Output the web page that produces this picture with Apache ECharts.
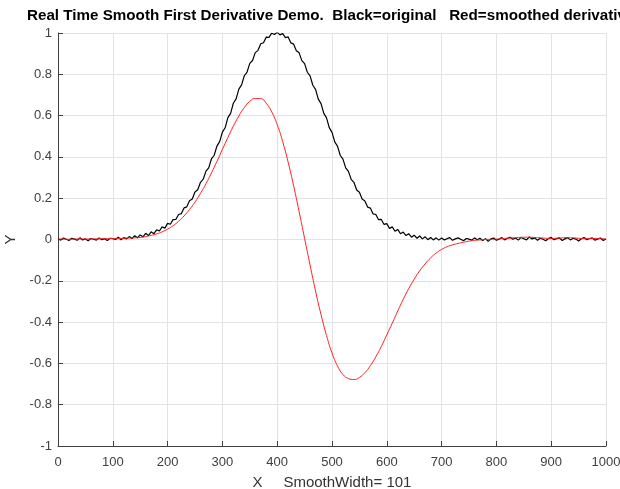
<!DOCTYPE html>
<html>
<head>
<meta charset="utf-8">
<script src="https://cdn.jsdelivr.net/npm/echarts@6/dist/echarts.min.js"></script>
<style>html,body{margin:0;padding:0;background:#fff}#c{width:620px;height:489px}</style>
</head>
<body>
<div id="c"></div>
<script>
// ---- data ----
const titleText = "Real Time Smooth First Derivative Demo.  Black=original   Red=smoothed derivative";
const xName = "X     SmoothWidth= 101";
const yName = "Y";
const xTicks = [0, 1000, 100];      // min, max, interval
const yTicks = [-1, 1, 0.2];

// black (original, noisy) sampled every 5 units of X, from 0 to 1000
const blackStep = 5;
const blackY = [
 0.004,-0.003,0.007,0.001,-0.005,0.006,0.002,-0.004,0.008,-0.002,
 0.003,-0.006,0.005,0.001,-0.003,0.007,-0.001,0.004,-0.005,0.006,
 0.004,0.000,0.011,-0.002,0.009,0.003,0.014,0.005,0.018,0.008,
 0.022,0.013,0.030,0.019,0.037,0.028,0.047,0.041,0.061,0.055,
 0.078,0.074,0.096,0.097,0.121,0.125,0.153,0.158,0.188,0.196,
 0.230,0.241,0.277,0.292,0.331,0.347,0.390,0.408,0.452,0.474,
 0.520,0.541,0.590,0.611,0.660,0.681,0.728,0.749,0.793,0.811,
 0.853,0.867,0.905,0.916,0.948,0.953,0.980,0.979,0.999,0.993,
 1.004,0.991,0.997,0.978,0.981,0.952,0.946,0.914,0.904,0.866,
 0.852,0.810,0.792,0.747,0.727,0.680,0.658,0.611,0.589,0.542,
 0.519,0.473,0.452,0.408,0.389,0.347,0.330,0.291,0.277,0.240,
 0.229,0.196,0.187,0.157,0.152,0.124,0.121,0.096,0.097,0.073,
 0.077,0.054,0.061,0.040,0.049,0.028,0.036,0.019,0.028,0.011,
 0.021,0.006,0.017,0.003,0.013,-0.001,0.010,-0.002,0.008,-0.003,
 0.007,-0.002,0.004,0.009,-0.004,0.003,0.008,0.001,-0.006,0.005,
 0.002,-0.003,0.008,-0.001,0.006,-0.005,0.004,-0.009,0.003,0.007,
 -0.004,0.002,0.009,-0.002,0.006,0.011,0.001,0.007,-0.003,0.010,
 0.004,-0.002,0.012,0.003,0.008,-0.004,0.006,0.001,-0.006,0.005,
 0.010,-0.001,0.004,0.008,-0.005,0.003,0.009,-0.002,0.006,0.002,
 -0.007,0.004,0.010,-0.001,0.005,0.008,-0.004,0.003,0.007,-0.005,
 0.002
];

// red (smoothed derivative) sampled every 10 units of X, from 0 to 1000
const redStep = 10;
const redY = [
 0.002,0.002,0.001,0.002,0.003,0.002,0.003,0.003,0.004,0.004,
 0.005,0.005,0.006,0.007,0.008,0.010,0.014,0.020,0.027,0.037,
 0.050,0.067,0.088,0.114,0.145,0.181,0.223,0.270,0.322,0.378,
 0.436,0.494,0.549,0.598,0.639,0.669,0.683,0.682,0.660,0.618,
 0.556,0.474,0.374,0.260,0.135,0.005,-0.124,-0.250,-0.364,-0.465,
 -0.549,-0.612,-0.654,-0.673,-0.678,-0.668,-0.645,-0.611,-0.568,-0.518,
 -0.462,-0.405,-0.346,-0.290,-0.238,-0.192,-0.152,-0.118,-0.089,-0.066,
 -0.048,-0.035,-0.026,-0.019,-0.013,-0.008,-0.004,-0.002,0.000,0.001,
 0.002,0.004,0.006,0.008,0.010,0.011,0.011,0.010,0.008,0.006,
 0.005,0.006,0.008,0.009,0.008,0.006,0.004,0.004,0.005,0.004,
 0.003
];

const blackData = blackY.map((v, i) => [i * blackStep, v]);
const redData = redY.map((v, i) => [i * redStep, v]);

const FONT = "'Liberation Sans', Arial, sans-serif";
const chart = echarts.init(document.getElementById('c'), null, {renderer: 'canvas'});
chart.setOption({
  animation: false,
  backgroundColor: '#fff',
  title: {
    text: titleText, left: 22, top: 3,
    textStyle: {fontFamily: FONT, fontSize: 15.2, fontWeight: 'bold', color: '#000'}
  },
  grid: {left: 58, right: 14, top: 33, bottom: 43, containLabel: false, outerBoundsMode: 'none'},
  xAxis: {
    type: 'value', min: xTicks[0], max: xTicks[1], interval: xTicks[2],
    name: xName, nameLocation: 'middle', nameGap: 29,
    nameTextStyle: {fontFamily: FONT, fontSize: 15, color: '#333'},
    axisLine: {show: true, onZero: false, lineStyle: {color: '#404040', width: 1}},
    axisTick: {show: true, inside: true, length: 5, lineStyle: {color: '#404040'}},
    axisLabel: {fontFamily: FONT, fontSize: 13, color: '#404040', margin: 10,
      formatter: v => String(v)},
    splitLine: {show: true, lineStyle: {color: '#e3e3e3', width: 1}}
  },
  yAxis: {
    type: 'value', min: yTicks[0], max: yTicks[1], interval: yTicks[2],
    name: yName, nameLocation: 'middle', nameGap: 40, nameRotate: 90,
    nameTextStyle: {fontFamily: FONT, fontSize: 15, color: '#333'},
    axisLine: {show: true, onZero: false, lineStyle: {color: '#404040', width: 1}},
    axisTick: {show: true, inside: true, length: 5, lineStyle: {color: '#404040'}},
    axisLabel: {fontFamily: FONT, fontSize: 13, color: '#404040', margin: 6,
      formatter: v => String(Math.round(v * 10) / 10)},
    splitLine: {show: true, lineStyle: {color: '#e3e3e3', width: 1}}
  },
  series: [
    {type: 'line', data: blackData, showSymbol: false, symbol: 'none',
     lineStyle: {color: '#000', width: 1.2}, z: 2},
    {type: 'line', data: redData, showSymbol: false, symbol: 'none', smooth: true,
     lineStyle: {color: '#ff2020', width: 1}, z: 3}
  ]
});
</script>
</body>
</html>
